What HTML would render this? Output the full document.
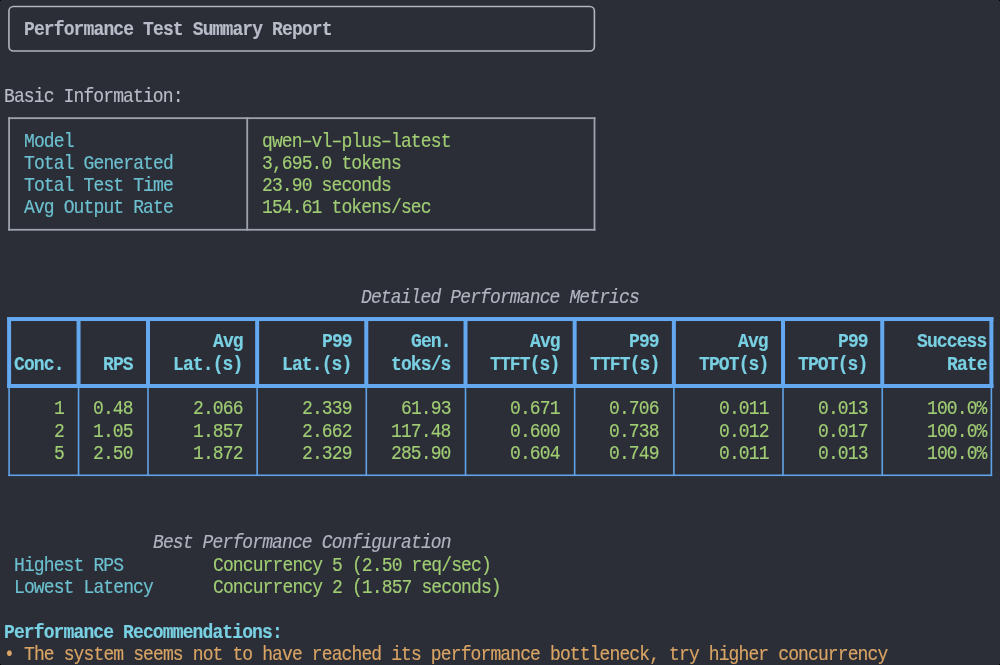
<!DOCTYPE html>
<html><head><meta charset="utf-8"><style>
html,body{margin:0;padding:0;}
body{width:1000px;height:665px;overflow:hidden;background:#2b2e37;position:relative;}
.b{position:absolute;box-sizing:content-box;}
.t{position:absolute;white-space:pre;font-family:"Liberation Mono",monospace;font-size:18.000px;letter-spacing:-0.878px;line-height:22.32px;height:22.32px;transform:scaleY(1.08);transform-origin:0 10.1px;-webkit-text-stroke:0.15px currentColor;will-change:transform;}
.title{color:#b8bcc8;font-weight:bold;}
.fg{color:#b8bcc8;}
.cyan{color:#6cc0cf;}
.bcyan{color:#78d0e2;font-weight:bold;}
.green{color:#a0cd73;}
.ital{color:#b0b4c0;font-style:italic;}
.orange{color:#d9a464;}
.corner{position:absolute;width:2px;height:2px;background:#000;}
</style></head><body>
<svg class="b" style="left:0;top:0" width="1000" height="665" viewBox="0 0 1000 665"><rect x="8.93" y="6.57" width="585.47" height="44.43" rx="4.5" ry="4.5" fill="none" stroke="#b0b4bf" stroke-width="1.6"/><rect x="8.201" y="117.260" width="587.198" height="1.800" fill="#9ea2ae"/><rect x="8.201" y="228.860" width="587.198" height="1.800" fill="#9ea2ae"/><rect x="8.201" y="117.260" width="1.800" height="113.400" fill="#9ea2ae"/><rect x="246.329" y="117.260" width="1.800" height="113.400" fill="#9ea2ae"/><rect x="593.599" y="117.260" width="1.800" height="113.400" fill="#9ea2ae"/><rect x="7.101" y="317.040" width="986.278" height="4.000" fill="#64a8f0"/><rect x="7.101" y="384.000" width="986.278" height="4.000" fill="#64a8f0"/><rect x="8.301" y="474.480" width="983.878" height="1.600" fill="#60a2e8"/><rect x="8.301" y="385.200" width="1.600" height="90.880" fill="#60a2e8"/><rect x="77.755" y="385.200" width="1.600" height="90.880" fill="#60a2e8"/><rect x="147.209" y="385.200" width="1.600" height="90.880" fill="#60a2e8"/><rect x="256.351" y="385.200" width="1.600" height="90.880" fill="#60a2e8"/><rect x="365.493" y="385.200" width="1.600" height="90.880" fill="#60a2e8"/><rect x="464.713" y="385.200" width="1.600" height="90.880" fill="#60a2e8"/><rect x="573.855" y="385.200" width="1.600" height="90.880" fill="#60a2e8"/><rect x="673.075" y="385.200" width="1.600" height="90.880" fill="#60a2e8"/><rect x="782.217" y="385.200" width="1.600" height="90.880" fill="#60a2e8"/><rect x="881.437" y="385.200" width="1.600" height="90.880" fill="#60a2e8"/><rect x="990.579" y="385.200" width="1.600" height="90.880" fill="#60a2e8"/><rect x="7.101" y="317.040" width="4.000" height="70.960" fill="#64a8f0"/><rect x="76.555" y="317.040" width="4.000" height="70.960" fill="#64a8f0"/><rect x="146.009" y="317.040" width="4.000" height="70.960" fill="#64a8f0"/><rect x="255.151" y="317.040" width="4.000" height="70.960" fill="#64a8f0"/><rect x="364.293" y="317.040" width="4.000" height="70.960" fill="#64a8f0"/><rect x="463.513" y="317.040" width="4.000" height="70.960" fill="#64a8f0"/><rect x="572.655" y="317.040" width="4.000" height="70.960" fill="#64a8f0"/><rect x="671.875" y="317.040" width="4.000" height="70.960" fill="#64a8f0"/><rect x="781.017" y="317.040" width="4.000" height="70.960" fill="#64a8f0"/><rect x="880.237" y="317.040" width="4.000" height="70.960" fill="#64a8f0"/><rect x="989.379" y="317.040" width="4.000" height="70.960" fill="#64a8f0"/></svg>
<div class="b" style="left:0px;top:0px;width:1px;height:1px;background:#000"></div>
<div class="b" style="left:999px;top:0px;width:1px;height:1px;background:#000"></div>
<div class="b" style="left:0px;top:664px;width:1px;height:1px;background:#000"></div>
<div class="b" style="left:999px;top:664px;width:1px;height:1px;background:#000"></div>
<span class="t title" style="left:23.98px;top:18.92px">Performance Test Summary Report</span>
<span class="t fg" style="left:4.14px;top:85.88px">Basic Information:</span>
<span class="t cyan" style="left:23.98px;top:130.52px">Model</span>
<span class="t green" style="left:262.11px;top:130.52px">qwen–vl–plus–latest</span>
<span class="t cyan" style="left:23.98px;top:152.84px">Total Generated</span>
<span class="t green" style="left:262.11px;top:152.84px">3,695.0 tokens</span>
<span class="t cyan" style="left:23.98px;top:175.16px">Total Test Time</span>
<span class="t green" style="left:262.11px;top:175.16px">23.90 seconds</span>
<span class="t cyan" style="left:23.98px;top:197.48px">Avg Output Rate</span>
<span class="t green" style="left:262.11px;top:197.48px">154.61 tokens/sec</span>
<span class="t ital" style="left:361.33px;top:286.76px">Detailed Performance Metrics</span>
<span class="t bcyan" style="left:14.06px;top:353.72px">Conc.</span>
<span class="t green" style="left:53.75px;top:398.36px">1</span>
<span class="t green" style="left:53.75px;top:420.68px">2</span>
<span class="t green" style="left:53.75px;top:443.00px">5</span>
<span class="t bcyan" style="left:103.36px;top:353.72px">RPS</span>
<span class="t green" style="left:93.44px;top:398.36px">0.48</span>
<span class="t green" style="left:93.44px;top:420.68px">1.05</span>
<span class="t green" style="left:93.44px;top:443.00px">2.50</span>
<span class="t bcyan" style="left:212.50px;top:331.40px">Avg</span>
<span class="t bcyan" style="left:172.81px;top:353.72px">Lat.(s)</span>
<span class="t green" style="left:192.66px;top:398.36px">2.066</span>
<span class="t green" style="left:192.66px;top:420.68px">1.857</span>
<span class="t green" style="left:192.66px;top:443.00px">1.872</span>
<span class="t bcyan" style="left:321.64px;top:331.40px">P99</span>
<span class="t bcyan" style="left:281.96px;top:353.72px">Lat.(s)</span>
<span class="t green" style="left:301.80px;top:398.36px">2.339</span>
<span class="t green" style="left:301.80px;top:420.68px">2.662</span>
<span class="t green" style="left:301.80px;top:443.00px">2.329</span>
<span class="t bcyan" style="left:410.94px;top:331.40px">Gen.</span>
<span class="t bcyan" style="left:391.10px;top:353.72px">toks/s</span>
<span class="t green" style="left:401.02px;top:398.36px">61.93</span>
<span class="t green" style="left:391.10px;top:420.68px">117.48</span>
<span class="t green" style="left:391.10px;top:443.00px">285.90</span>
<span class="t bcyan" style="left:530.01px;top:331.40px">Avg</span>
<span class="t bcyan" style="left:490.32px;top:353.72px">TTFT(s)</span>
<span class="t green" style="left:510.16px;top:398.36px">0.671</span>
<span class="t green" style="left:510.16px;top:420.68px">0.600</span>
<span class="t green" style="left:510.16px;top:443.00px">0.604</span>
<span class="t bcyan" style="left:629.23px;top:331.40px">P99</span>
<span class="t bcyan" style="left:589.54px;top:353.72px">TTFT(s)</span>
<span class="t green" style="left:609.38px;top:398.36px">0.706</span>
<span class="t green" style="left:609.38px;top:420.68px">0.738</span>
<span class="t green" style="left:609.38px;top:443.00px">0.749</span>
<span class="t bcyan" style="left:738.37px;top:331.40px">Avg</span>
<span class="t bcyan" style="left:698.68px;top:353.72px">TPOT(s)</span>
<span class="t green" style="left:718.52px;top:398.36px">0.011</span>
<span class="t green" style="left:718.52px;top:420.68px">0.012</span>
<span class="t green" style="left:718.52px;top:443.00px">0.011</span>
<span class="t bcyan" style="left:837.59px;top:331.40px">P99</span>
<span class="t bcyan" style="left:797.90px;top:353.72px">TPOT(s)</span>
<span class="t green" style="left:817.74px;top:398.36px">0.013</span>
<span class="t green" style="left:817.74px;top:420.68px">0.017</span>
<span class="t green" style="left:817.74px;top:443.00px">0.013</span>
<span class="t bcyan" style="left:916.96px;top:331.40px">Success</span>
<span class="t bcyan" style="left:946.73px;top:353.72px">Rate</span>
<span class="t green" style="left:926.89px;top:398.36px">100.0%</span>
<span class="t green" style="left:926.89px;top:420.68px">100.0%</span>
<span class="t green" style="left:926.89px;top:443.00px">100.0%</span>
<span class="t ital" style="left:152.97px;top:532.28px">Best Performance Configuration</span>
<span class="t cyan" style="left:14.06px;top:554.60px">Highest RPS</span>
<span class="t green" style="left:212.50px;top:554.60px">Concurrency 5 (2.50 req/sec)</span>
<span class="t cyan" style="left:14.06px;top:576.92px">Lowest Latency</span>
<span class="t green" style="left:212.50px;top:576.92px">Concurrency 2 (1.857 seconds)</span>
<span class="t bcyan" style="left:4.14px;top:621.56px">Performance Recommendations:</span>
<span class="t orange" style="left:4.14px;top:643.88px">•</span>
<span class="t orange" style="left:23.98px;top:643.88px">The system seems not to have reached its performance bottleneck, try higher concurrency</span>
</body></html>
